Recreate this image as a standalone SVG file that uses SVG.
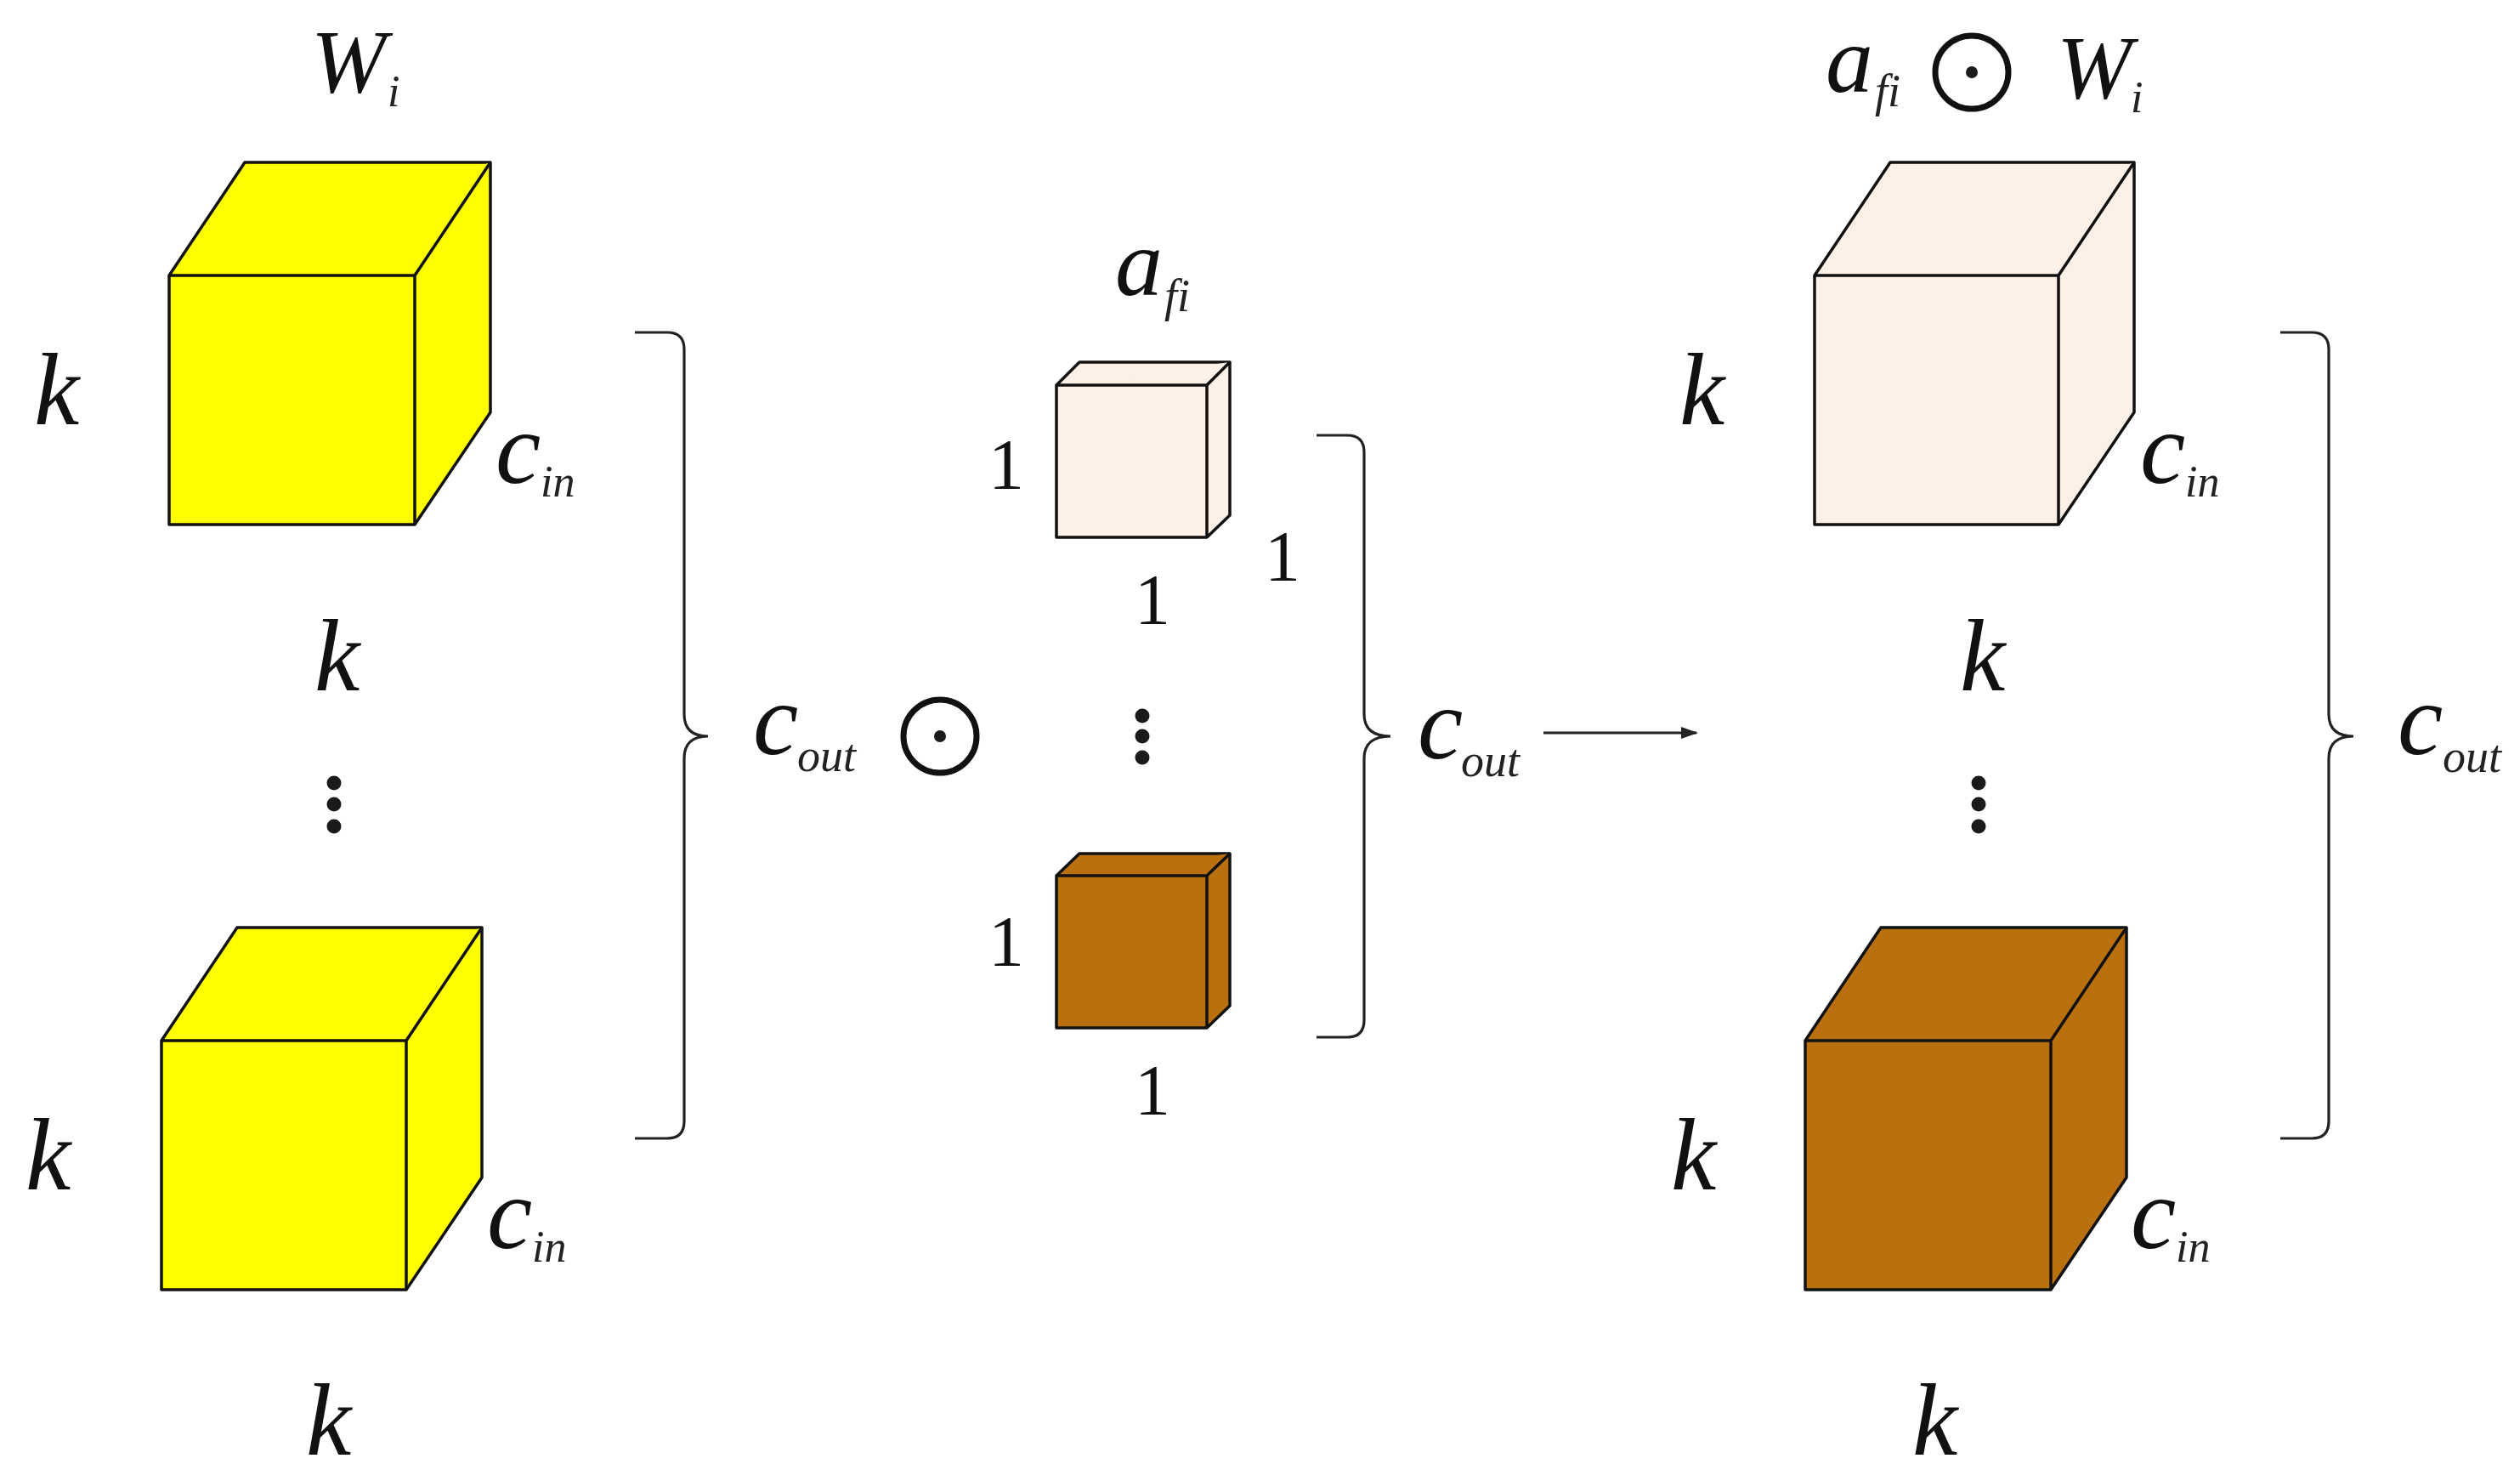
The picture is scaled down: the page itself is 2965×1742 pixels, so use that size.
<svg xmlns="http://www.w3.org/2000/svg" width="2965" height="1742" viewBox="0 0 2965 1742">
<style>
.f{stroke:#111;stroke-width:3.5;stroke-linejoin:round}
.y{fill:#ffff00}.p{fill:#fdf0e6}.b{fill:#b9700e}
.br{fill:none;stroke:#222;stroke-width:3.2}
.m{font-family:"Liberation Serif","Times New Roman",serif;font-style:italic;fill:#111;font-size:120px}
.w{font-size:106px}
.a{font-size:112px}
.s{font-family:"Liberation Serif","Times New Roman",serif;font-style:italic;fill:#222;font-size:52px}
.t{font-size:54px}
.fi{font-size:54px}
.n{font-family:"Liberation Serif","Times New Roman",serif;fill:#111;font-size:84px;text-anchor:middle}
.o{fill:none;stroke:#111;stroke-width:7}
.d{fill:#1a1a1a}
</style>
<defs>
<marker id="ah" markerWidth="20" markerHeight="14" refX="18" refY="7" orient="auto" markerUnits="userSpaceOnUse"><path d="M0 0L20 7L0 14Z" fill="#222"/></marker>
</defs>
<rect width="2965" height="1742" fill="#fff"/>
<g id="connectors">
<path class="br" d="M747 391H785Q805 391 805 411V840Q805 866 833 866Q805 866 805 892V1319Q805 1339 785 1339H747"/>
<path class="br" d="M1549 512H1585Q1605 512 1605 532V840Q1605 866 1636 866Q1605 866 1605 892V1200Q1605 1220 1585 1220H1549"/>
<path class="br" d="M2683 391H2720Q2740 391 2740 411V840Q2740 866 2769 866Q2740 866 2740 892V1319Q2740 1339 2720 1339H2683"/>
<line x1="1816" y1="862" x2="1996" y2="862" stroke="#222" stroke-width="3" marker-end="url(#ah)"/>
</g>
<g id="cube-w-top">
<path class="f y" d="M199 324L288 191H577V485L488 617H199Z"/><path class="f y" d="M199 324H488L577 191M488 324V617"/>
</g>
<g id="cube-w-bottom">
<path class="f y" d="M190 1224L279 1091H567V1385L478 1517H190Z"/><path class="f y" d="M190 1224H478L567 1091M478 1224V1517"/>
</g>
<g id="cube-a-top">
<path class="f p" d="M1243 453L1270 426H1447V606L1420 632H1243Z"/><path class="f p" d="M1243 453H1420L1447 426M1420 453V632"/>
</g>
<g id="cube-a-bottom">
<path class="f b" d="M1243 1030L1270 1004H1447V1183L1420 1209H1243Z"/><path class="f b" d="M1243 1030H1420L1447 1004M1420 1030V1209"/>
</g>
<g id="cube-r-top">
<path class="f p" d="M2135 324L2224 191H2511V485L2422 617H2135Z"/><path class="f p" d="M2135 324H2422L2511 191M2422 324V617"/>
</g>
<g id="cube-r-bottom">
<path class="f b" d="M2124 1224L2213 1091H2502V1385L2413 1517H2124Z"/><path class="f b" d="M2124 1224H2413L2502 1091M2413 1224V1517"/>
</g>
<g id="labels-left">
<text class="m w" x="366" y="108">W</text><text class="s" x="456" y="125">i</text>
<text class="m" x="40" y="499">k</text><text class="m" x="370" y="812">k</text>
<text class="m" x="583" y="568">c</text><text class="s" x="636" y="584">in</text>
<text class="m" x="30" y="1399">k</text><text class="m" x="360" y="1711">k</text>
<text class="m" x="573" y="1468">c</text><text class="s" x="626" y="1484">in</text>
<text class="m" x="886" y="887">c</text><text class="s t" x="938" y="907">out</text>
<circle class="d" cx="393" cy="921" r="8.5"/><circle class="d" cx="393" cy="946" r="8.5"/><circle class="d" cx="393" cy="972" r="8.5"/>
</g>
<g id="op-1"><circle class="o" cx="1106" cy="866" r="43"/><circle class="d" cx="1106" cy="866" r="7"/></g>
<g id="labels-middle">
<text class="m a" x="1312" y="347">a</text><text class="s fi" x="1370" y="366">fi</text>
<text class="n" x="1184" y="575">1</text><text class="n" x="1509" y="683">1</text><text class="n" x="1356" y="734">1</text>
<text class="n" x="1184" y="1136">1</text><text class="n" x="1356" y="1311">1</text>
<circle class="d" cx="1344" cy="842" r="8.5"/><circle class="d" cx="1344" cy="866" r="8.5"/><circle class="d" cx="1344" cy="891" r="8.5"/>
<text class="m" x="1668" y="892">c</text><text class="s t" x="1719" y="913">out</text>
</g>
<g id="labels-right">
<text class="m a" x="2148" y="108">a</text><text class="s fi" x="2206" y="125">fi</text>
<circle class="o" cx="2320" cy="85" r="43"/><circle class="d" cx="2320" cy="85" r="7"/>
<text class="m w" x="2420" y="115">W</text><text class="s" x="2507" y="132">i</text>
<text class="m" x="1976" y="499">k</text><text class="m" x="2306" y="812">k</text>
<text class="m" x="2518" y="568">c</text><text class="s" x="2571" y="584">in</text>
<text class="m" x="1966" y="1399">k</text><text class="m" x="2250" y="1711">k</text>
<text class="m" x="2507" y="1468">c</text><text class="s" x="2560" y="1484">in</text>
<text class="m" x="2821" y="887">c</text><text class="s t" x="2874" y="908">out</text>
<circle class="d" cx="2328" cy="921" r="8.5"/><circle class="d" cx="2328" cy="946" r="8.5"/><circle class="d" cx="2328" cy="972" r="8.5"/>
</g>
</svg>
